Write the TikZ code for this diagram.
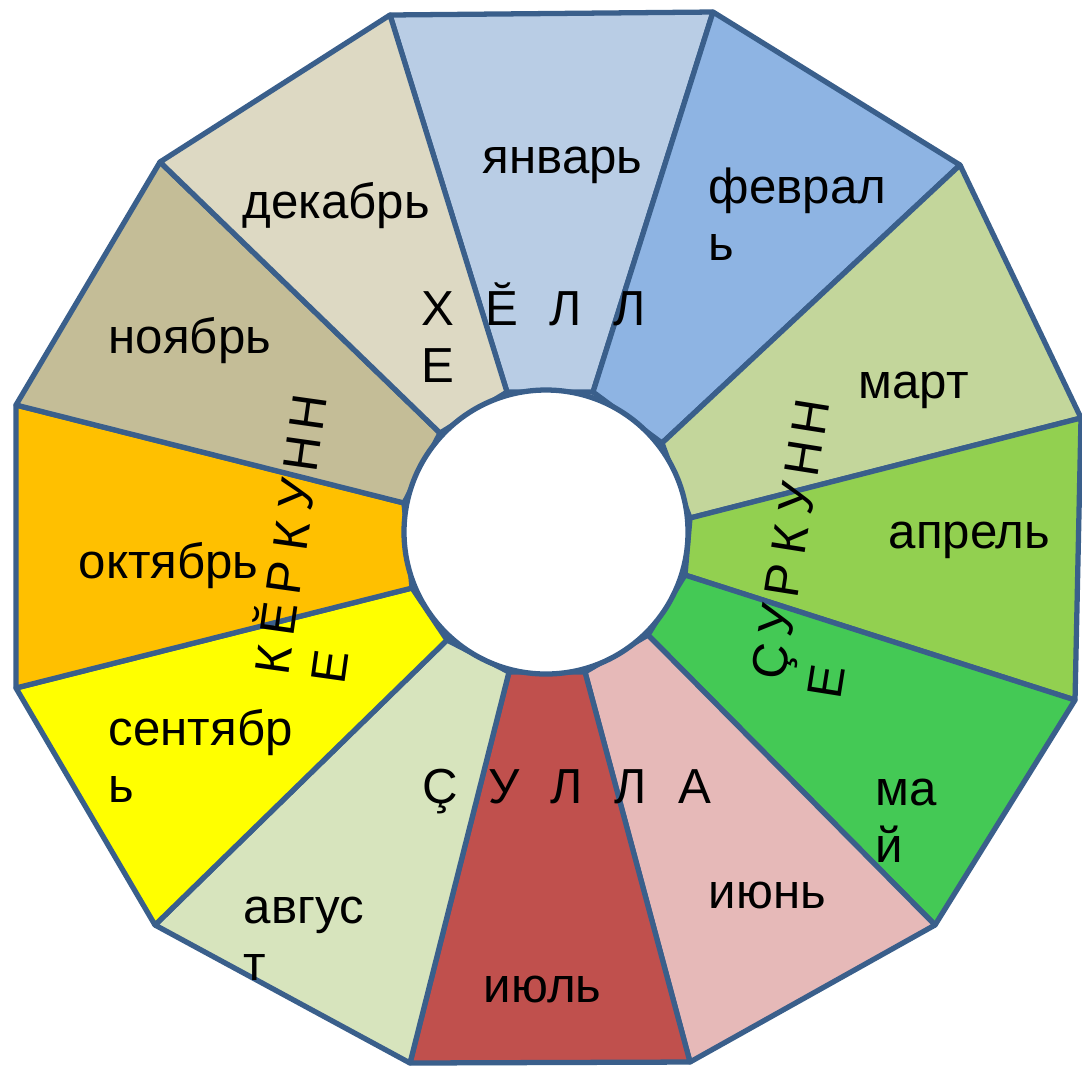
\documentclass[tikz,border=0pt]{standalone}
\usepackage{fontspec}
\setmainfont{Liberation Sans}

\definecolor{rim}{HTML}{3A5F8B}
\definecolor{cJan}{HTML}{B9CDE5}
\definecolor{cFeb}{HTML}{8EB4E3}
\definecolor{cMar}{HTML}{C3D69B}
\definecolor{cApr}{HTML}{92D050}
\definecolor{cMay}{HTML}{44C955}
\definecolor{cJun}{HTML}{E6B9B8}
\definecolor{cJul}{HTML}{C0504D}
\definecolor{cAug}{HTML}{D7E4BD}
\definecolor{cSep}{HTML}{FFFF00}
\definecolor{cOct}{HTML}{FFC000}
\definecolor{cNov}{HTML}{C4BD97}
\definecolor{cDec}{HTML}{DDD9C3}

\begin{document}
\begin{tikzpicture}[x=0.1mm, y=-0.1mm,
    seg/.style={draw=rim, line width=1.5pt, line join=round},
    month/.style={anchor=base west, align=left, inner sep=0pt, font=\fontsize{14}{16.2}\selectfont},
    letter/.style={anchor=base, inner sep=0pt, font=\fontsize{14}{16.2}\selectfont}
]
    \useasboundingbox (0,0) rectangle (1082,1072);

    % outer corners
    \coordinate (o1) at (390,15);
    \coordinate (o2) at (713,12);
    \coordinate (o3) at (960,165);
    \coordinate (o4) at (1081,418);
    \coordinate (o5) at (1075,700);
    \coordinate (o6) at (935,925);
    \coordinate (o7) at (690,1062);
    \coordinate (o8) at (410,1063);
    \coordinate (o9) at (155,925);
    \coordinate (o10) at (16,688);
    \coordinate (o11) at (16,405);
    \coordinate (o12) at (160,162);
    % inner corners
    \coordinate (i1) at (507,392);
    \coordinate (i2) at (593,392);
    \coordinate (i3) at (662,443);
    \coordinate (i4) at (690,518);
    \coordinate (i5) at (685,575);
    \coordinate (i6) at (648,635);
    \coordinate (i7) at (585,672);
    \coordinate (i8) at (509,672);
    \coordinate (i9) at (447,640);
    \coordinate (i10) at (412,588);
    \coordinate (i11) at (404,503);
    \coordinate (i12) at (440,433);

    % segments
    \filldraw[seg, fill=cJan] (o1) -- (o2) -- (i2) -- (i1) -- cycle;
    \filldraw[seg, fill=cFeb] (o2) -- (o3) -- (i3) -- (i2) -- cycle;
    \filldraw[seg, fill=cMar] (o3) -- (o4) -- (i4) -- (i3) -- cycle;
    \filldraw[seg, fill=cApr] (o4) -- (o5) -- (i5) -- (i4) -- cycle;
    \filldraw[seg, fill=cMay] (o5) -- (o6) -- (i6) -- (i5) -- cycle;
    \filldraw[seg, fill=cJun] (o6) -- (o7) -- (i7) -- (i6) -- cycle;
    \filldraw[seg, fill=cJul] (o7) -- (o8) -- (i8) -- (i7) -- cycle;
    \filldraw[seg, fill=cAug] (o8) -- (o9) -- (i9) -- (i8) -- cycle;
    \filldraw[seg, fill=cSep] (o9) -- (o10) -- (i10) -- (i9) -- cycle;
    \filldraw[seg, fill=cOct] (o10) -- (o11) -- (i11) -- (i10) -- cycle;
    \filldraw[seg, fill=cNov] (o11) -- (o12) -- (i12) -- (i11) -- cycle;
    \filldraw[seg, fill=cDec] (o12) -- (o1) -- (i1) -- (i12) -- cycle;

    % hub
    \filldraw[seg, fill=white] (546,532) circle[radius=142];

    % months (base = last line)
    \node[month] (jan) at (482,173) {январь};
    \node[month] (feb) at (708,260) {феврал\\ь};
    \node[month] (mar) at (858,398) {март};
    \node[month] (apr) at (888,548) {апрель};
    \node[month] (may) at (875,862) {ма\\й};
    \node[month] (jun) at (708,908) {июнь};
    \node[month] (jul) at (483,1002) {июль};
    \node[month] (aug) at (243,980) {авгус\\т};
    \node[month] (sep) at (108,802) {сентябр\\ь};
    \node[month] (oct) at (78,578) {октябрь};
    \node[month] (nov) at (108,353) {ноябрь};
    \node[month] (dec) at (242,218) {декабрь};

    % winter
    \node[letter] (w1) at (438,325) {Х};
    \node[letter] (w2) at (502,325) {Ӗ};
    \node[letter] (w3) at (566,325) {Л};
    \node[letter] (w4) at (630,325) {Л};
    \node[letter] (w5) at (438,382) {Е};
    % summer
    \node[letter] (s1) at (440,803) {Ç};
    \node[letter] (s2) at (504,803) {У};
    \node[letter] (s3) at (567,803) {Л};
    \node[letter] (s4) at (631,803) {Л};
    \node[letter] (s5) at (695,803) {А};
    % autumn
    \node[letter, rotate=82] (a1) at (290,662) {К};
    \node[letter, rotate=82] (a2) at (296,621) {Ӗ};
    \node[letter, rotate=82] (a3) at (302,580) {Р};
    \node[letter, rotate=82] (a4) at (308,538) {К};
    \node[letter, rotate=82] (a5) at (314,497) {У};
    \node[letter, rotate=82] (a6) at (319,456) {Н};
    \node[letter, rotate=82] (a7) at (325,415) {Н};
    \node[letter, rotate=82] (a8) at (347,669) {Е};
    % spring
    \node[letter, rotate=81] (p1) at (787,664) {Ç};
    \node[letter, rotate=81] (p2) at (794,623) {У};
    \node[letter, rotate=81] (p3) at (800,583) {Р};
    \node[letter, rotate=81] (p4) at (807,542) {К};
    \node[letter, rotate=81] (p5) at (814,501) {У};
    \node[letter, rotate=81] (p6) at (820,461) {Н};
    \node[letter, rotate=81] (p7) at (827,420) {Н};
    \node[letter, rotate=81] (p8) at (843,684) {Е};
\end{tikzpicture}
\end{document}
